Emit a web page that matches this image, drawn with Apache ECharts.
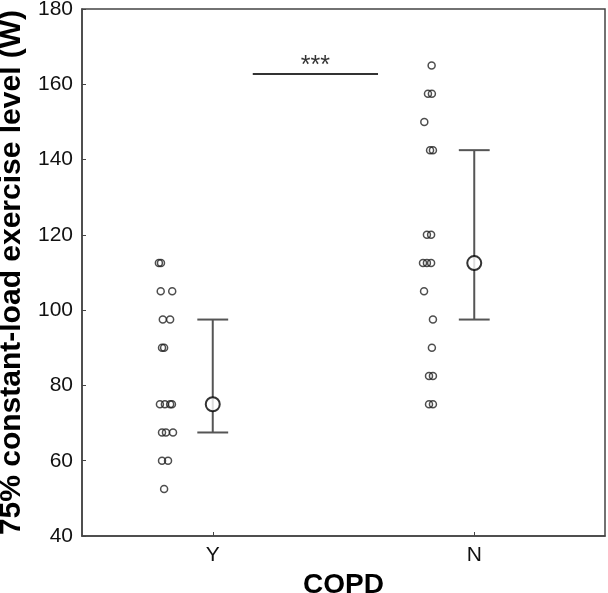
<!DOCTYPE html>
<html>
<head>
<meta charset="utf-8">
<script src="https://cdn.jsdelivr.net/npm/echarts@6/dist/echarts.min.js"></script>
<style>html,body{margin:0;padding:0;background:#fff}#c{width:608px;height:593px}</style>
</head>
<body>
<div id="c"></div>
<script>
// ---- data ----
const categories = ['Y', 'N'];
const categoryPos = [1, 2];
const yTitle = '75% constant-load exercise level (W)';
const xTitle = 'COPD';
const sigText = '***';

// individual observations (value) and their jittered x position (axis units, category at 1 / 2)
const copdYValues = [112.5, 112.5, 105, 105, 97.5, 97.5, 90, 90, 75, 75, 75, 75, 67.5, 67.5, 67.5, 60, 60, 52.5];
const copdYJitter = [0.794, 0.802, 0.801, 0.845, 0.809, 0.837, 0.806, 0.814, 0.798, 0.817, 0.837, 0.844, 0.806, 0.821, 0.848, 0.806, 0.829, 0.814];
const copdNValues = [165, 157.5, 157.5, 150, 142.5, 142.5, 120, 120, 112.5, 112.5, 112.5, 105, 97.5, 90, 82.5, 82.5, 75, 75];
const copdNJitter = [1.837, 1.823, 1.838, 1.809, 1.831, 1.842, 1.819, 1.835, 1.804, 1.819, 1.835, 1.808, 1.842, 1.838, 1.827, 1.842, 1.827, 1.842];

// summary per group: center, low, high
const summaryMid = [75, 112.5];
const summaryLow = [67.5, 97.5];
const summaryHigh = [97.5, 142.5];
const capHalf = 0.059;

// significance bar
const sigX = [1.153, 1.632];
const sigY = 162.7;

// ---- build ----
const ptsY = copdYValues.map((v, i) => [copdYJitter[i], v]);
const ptsN = copdNValues.map((v, i) => [copdNJitter[i], v]);
const errData = categoryPos.map((x, i) => [x, summaryLow[i], summaryHigh[i]]);
const meanData = categoryPos.map((x, i) => [x, summaryMid[i]]);

const chart = echarts.init(document.getElementById('c'), null, {renderer: 'canvas'});
const FONT = 'Liberation Sans, Arial, sans-serif';
const dotStyle = {color: 'rgba(255,255,255,0)', borderColor: '#222', borderWidth: 1.5};

chart.setOption({
  animation: false,
  backgroundColor: '#fff',
  grid: {left: 82, right: 3, top: 9, bottom: 57, containLabel: false, outerBoundsMode: 'none',
    show: true, borderColor: '#444', borderWidth: 1.5, backgroundColor: 'transparent'},
  xAxis: {
    type: 'value', min: 0.5, max: 2.5,
    name: xTitle, nameLocation: 'middle', nameGap: 24,
    nameTextStyle: {fontFamily: FONT, fontWeight: 'bold', fontSize: 28, color: '#000'},
    splitLine: {show: false},
    axisLine: {show: true, lineStyle: {color: '#444', width: 1.5}},
    axisTick: {show: true, inside: true, length: 4, customValues: categoryPos, lineStyle: {color: '#444'}},
    axisLabel: {customValues: categoryPos, fontFamily: FONT, fontSize: 21, color: '#111', margin: 9,
      formatter: v => categories[categoryPos.indexOf(Math.round(v))] || ''}
  },
  yAxis: {
    type: 'value', min: 40, max: 180, interval: 20,
    name: yTitle, nameLocation: 'middle', nameRotate: 90, nameGap: 44,
    nameTextStyle: {fontFamily: FONT, fontWeight: 'bold', fontSize: 30, color: '#000'},
    splitLine: {show: false},
    axisLine: {show: true, lineStyle: {color: '#444', width: 1.5}},
    axisTick: {show: true, inside: true, length: 4, lineStyle: {color: '#444'}},
    axisLabel: {fontFamily: FONT, fontSize: 21, color: '#111', margin: 9}
  },
  series: [
    {type: 'scatter', data: ptsY, symbol: 'circle', symbolSize: 7, itemStyle: dotStyle, z: 3},
    {type: 'scatter', data: ptsN, symbol: 'circle', symbolSize: 7, itemStyle: dotStyle, z: 3},
    {
      type: 'custom', data: errData, z: 2,
      renderItem: function (params, api) {
        const x = api.value(0), lo = api.value(1), hi = api.value(2);
        const pLo = api.coord([x, lo]), pHi = api.coord([x, hi]);
        const cL = api.coord([x - capHalf, lo]), cR = api.coord([x + capHalf, lo]);
        const st = {stroke: '#555', lineWidth: 2};
        return {type: 'group', children: [
          {type: 'line', shape: {x1: pLo[0], y1: pLo[1], x2: pHi[0], y2: pHi[1]}, style: st},
          {type: 'line', shape: {x1: cL[0], y1: pLo[1], x2: cR[0], y2: pLo[1]}, style: st},
          {type: 'line', shape: {x1: cL[0], y1: pHi[1], x2: cR[0], y2: pHi[1]}, style: st}
        ]};
      }
    },
    {type: 'scatter', data: meanData, symbol: 'circle', symbolSize: 14, z: 4,
      itemStyle: {color: '#fff', borderColor: '#000', borderWidth: 2}},
    {type: 'line', data: sigX.map(x => [x, sigY]), showSymbol: false, symbol: 'none', z: 3,
      lineStyle: {color: '#333', width: 2}},
    {type: 'scatter', data: [[(sigX[0] + sigX[1]) / 2, sigY]], symbolSize: 0, z: 3, silent: true,
      label: {show: true, position: 'top', distance: -4, formatter: sigText, fontFamily: FONT, fontSize: 25, color: '#000'}}
  ]
});
</script>
</body>
</html>
